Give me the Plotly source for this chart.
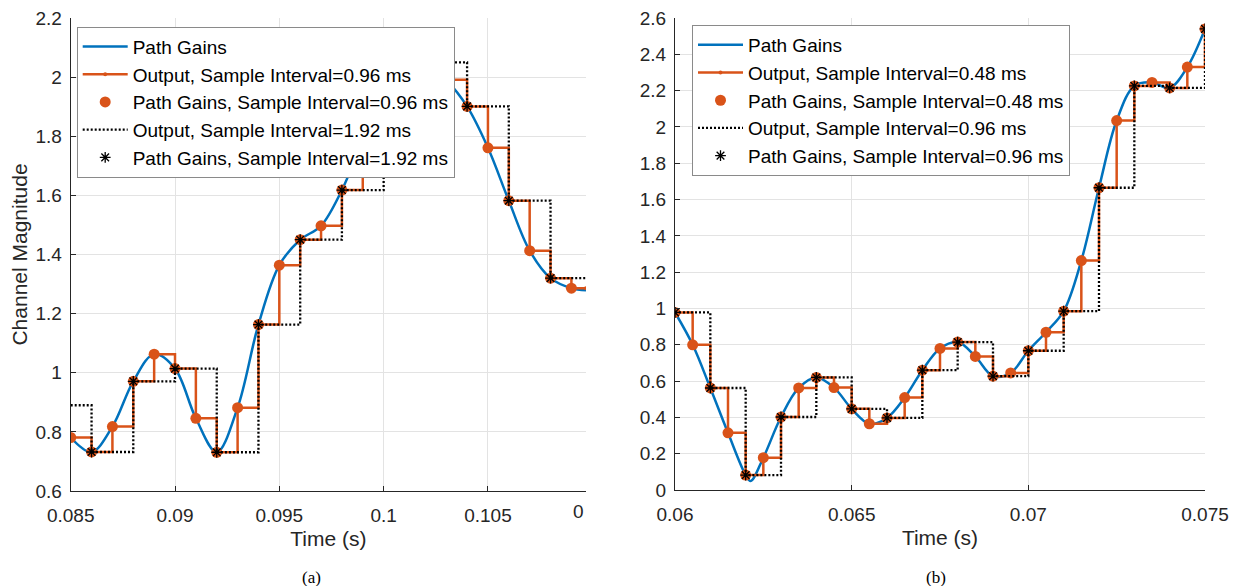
import plotly.graph_objects as go

# ---------------- data (a) ----------------
t_a = [0.085, 0.086, 0.087, 0.088, 0.089, 0.090, 0.091, 0.092, 0.093, 0.094,
       0.095, 0.096, 0.097, 0.098, 0.099, 0.100, 0.101, 0.102, 0.103, 0.104,
       0.105, 0.106, 0.107, 0.108, 0.109]
g_a = [0.781, 0.732, 0.818, 0.971, 1.063, 1.014, 0.846, 0.731, 0.882, 1.163,
       1.364, 1.450, 1.497, 1.618, 1.785, 1.925, 2.010, 2.050, 1.991, 1.901,
       1.761, 1.582, 1.413, 1.320, 1.286]
# path gain curve: samples plus value read at right edge
curve_a_t = t_a + [0.1097]
curve_a_g = g_a + [1.279]
# held output value before first coarse sample
held_a = 0.89
xr_a = [0.085, 0.1097]

# ---------------- data (b) ----------------
t_b = [0.0600, 0.0605, 0.0610, 0.0615, 0.0620, 0.0625, 0.0630, 0.0635, 0.0640, 0.0645,
       0.0650, 0.0655, 0.0660, 0.0665, 0.0670, 0.0675, 0.0680, 0.0685, 0.0690, 0.0695,
       0.0700, 0.0705, 0.0710, 0.0715, 0.0720, 0.0725, 0.0730, 0.0735, 0.0740, 0.0745,
       0.0750]
g_b = [0.978, 0.800, 0.562, 0.315, 0.082, 0.178, 0.402, 0.562, 0.620, 0.564,
       0.447, 0.365, 0.397, 0.509, 0.660, 0.780, 0.815, 0.736, 0.627, 0.645,
       0.767, 0.869, 0.985, 1.264, 1.665, 2.035, 2.226, 2.245, 2.215, 2.330,
       2.540]
# extra curve point read at the dip between samples
dip_b_t = 0.06214
dip_b_g = 0.049
xr_b = [0.060, 0.075]

leg_a = ["Path Gains", "Output, Sample Interval=0.96 ms",
         "Path Gains, Sample Interval=0.96 ms", "Output, Sample Interval=1.92 ms",
         "Path Gains, Sample Interval=1.92 ms"]
leg_b = ["Path Gains", "Output, Sample Interval=0.48 ms",
         "Path Gains, Sample Interval=0.48 ms", "Output, Sample Interval=0.96 ms",
         "Path Gains, Sample Interval=0.96 ms"]

xt_a = [0.085, 0.09, 0.095, 0.1, 0.105]
xt_a_txt = ["0.085", "0.09", "0.095", "0.1", "0.105"]
xt_b = [0.06, 0.065, 0.07, 0.075]
xt_b_txt = ["0.06", "0.065", "0.07", "0.075"]
yt_a = [0.6, 0.8, 1.0, 1.2, 1.4, 1.6, 1.8, 2.0, 2.2]
yt_a_txt = ["0.6", "0.8", "1", "1.2", "1.4", "1.6", "1.8", "2", "2.2"]
yt_b = [0, 0.2, 0.4, 0.6, 0.8, 1.0, 1.2, 1.4, 1.6, 1.8, 2.0, 2.2, 2.4, 2.6]
yt_b_txt = ["0", "0.2", "0.4", "0.6", "0.8", "1", "1.2", "1.4", "1.6", "1.8", "2", "2.2", "2.4", "2.6"]

BLUE = "#0072BD"
ORANGE = "#D95319"
FONT = "Liberation Sans, Arial, sans-serif"
FS = 19
TXT = "#262626"

# page body margin of the browser (8 px) is compensated here
OFF = 8
W, H = 1238 - OFF, 586 - OFF


def px(x):
    return (x - OFF) / W


def py(y):
    return 1 - (y - OFF) / H


fig = go.Figure()


def add_panel(t, g, curve_t, curve_g, coarse_start, held, xr, labels, xa, ya, legend):
    ct = t[coarse_start::2]
    cg = g[coarse_start::2]
    fig.add_trace(go.Scatter(x=curve_t, y=curve_g, mode="lines", name=labels[0],
                             line=dict(color=BLUE, width=2.5, shape="spline", smoothing=1.0),
                             xaxis=xa, yaxis=ya, legend=legend))
    fig.add_trace(go.Scatter(x=t + [xr[1]], y=g + [g[-1]], mode="lines+markers", name=labels[1],
                             line=dict(color=ORANGE, width=2.5, shape="hv"),
                             marker=dict(color=ORANGE, size=4),
                             xaxis=xa, yaxis=ya, legend=legend))
    fig.add_trace(go.Scatter(x=t, y=g, mode="markers", name=labels[2],
                             marker=dict(color=ORANGE, size=11, line=dict(width=0)),
                             xaxis=xa, yaxis=ya, legend=legend))
    if held is not None:
        ox = [xr[0]] + ct + [xr[1]]
        oy = [held] + cg + [cg[-1]]
    else:
        ox = ct + [xr[1]]
        oy = cg + [cg[-1]]
    fig.add_trace(go.Scatter(x=ox, y=oy, mode="lines", name=labels[3],
                             line=dict(color="black", width=2.3, shape="hv", dash="2px,2px"),
                             xaxis=xa, yaxis=ya, legend=legend))
    fig.add_trace(go.Scatter(x=ct, y=cg, mode="markers", name=labels[4],
                             marker=dict(symbol="asterisk-open", color="black", size=9,
                                         line=dict(color="black", width=1.3)),
                             xaxis=xa, yaxis=ya, legend=legend))


add_panel(t_a, g_a, curve_a_t, curve_a_g, 1, held_a, xr_a, leg_a, "x", "y", "legend")

curve_b_t = t_b[:5] + [dip_b_t] + t_b[5:]
curve_b_g = g_b[:5] + [dip_b_g] + g_b[5:]
add_panel(t_b, g_b, curve_b_t, curve_b_g, 0, None, xr_b, leg_b, "x2", "y2", "legend2")

axis_common = dict(showline=True, linecolor=TXT, linewidth=1, mirror=False,
                   ticks="inside", ticklen=5, tickcolor=TXT, automargin=False,
                   ticklabeloverflow="allow",
                   showgrid=True, gridcolor="#e3e3e3", gridwidth=1, zeroline=False,
                   tickfont=dict(family=FONT, size=FS, color=TXT))
title_font = dict(family=FONT, size=21, color=TXT)

fig.update_layout(
    width=W, height=H,
    margin=dict(l=0, r=0, t=0, b=0, autoexpand=False),
    paper_bgcolor="white", plot_bgcolor="white",
    font=dict(family=FONT, size=FS, color=TXT),
    xaxis=dict(domain=[px(70.7), px(586)], range=xr_a, tickvals=xt_a, ticktext=xt_a_txt,
               anchor="y", ticklabelstandoff=7,
               title=dict(text="Time (s)", standoff=6, font=title_font), **axis_common),
    yaxis=dict(domain=[py(491), py(18)], range=[0.6, 2.2], tickvals=yt_a,
               ticktext=yt_a_txt, anchor="x", ticklabelstandoff=4,
               title=dict(text="Channel Magnitude", standoff=7, font=title_font),
               **axis_common),
    xaxis2=dict(domain=[px(675), px(1205)], range=xr_b, tickvals=xt_b, ticktext=xt_b_txt,
                anchor="y2", ticklabelstandoff=7,
                title=dict(text="Time (s)", standoff=6, font=title_font), **axis_common),
    yaxis2=dict(domain=[py(490), py(18)], range=[0, 2.6], tickvals=yt_b,
                ticktext=yt_b_txt, anchor="x2", ticklabelstandoff=4, **axis_common),
    legend=dict(x=px(76.7), y=py(26.7), xanchor="left", yanchor="top",
                bgcolor="white", bordercolor="#8a8a8a", borderwidth=1,
                font=dict(family=FONT, size=FS, color="black"), itemwidth=45),
    legend2=dict(x=px(1070), y=py(25), xanchor="right", yanchor="top",
                 bgcolor="white", bordercolor="#8a8a8a", borderwidth=1,
                 font=dict(family=FONT, size=FS, color="black"), itemwidth=45),
    showlegend=True,
)

# cropped tick label at right end of panel (a)
fig.add_annotation(x=xr_a[1], y=0.6, xref="x", yref="y", text="0", showarrow=False,
                   xanchor="right", yanchor="top", yshift=-8,
                   font=dict(family=FONT, size=FS, color=TXT))
# sub-figure captions
cap_font = dict(family="Liberation Serif, Times New Roman, serif", size=17, color="black")
fig.add_annotation(x=px(311), y=py(577), xref="paper", yref="paper", text="(a)",
                   showarrow=False, xanchor="center", yanchor="middle", font=cap_font)
fig.add_annotation(x=px(936), y=py(577), xref="paper", yref="paper", text="(b)",
                   showarrow=False, xanchor="center", yanchor="middle", font=cap_font)

fig.write_html("out.html")
